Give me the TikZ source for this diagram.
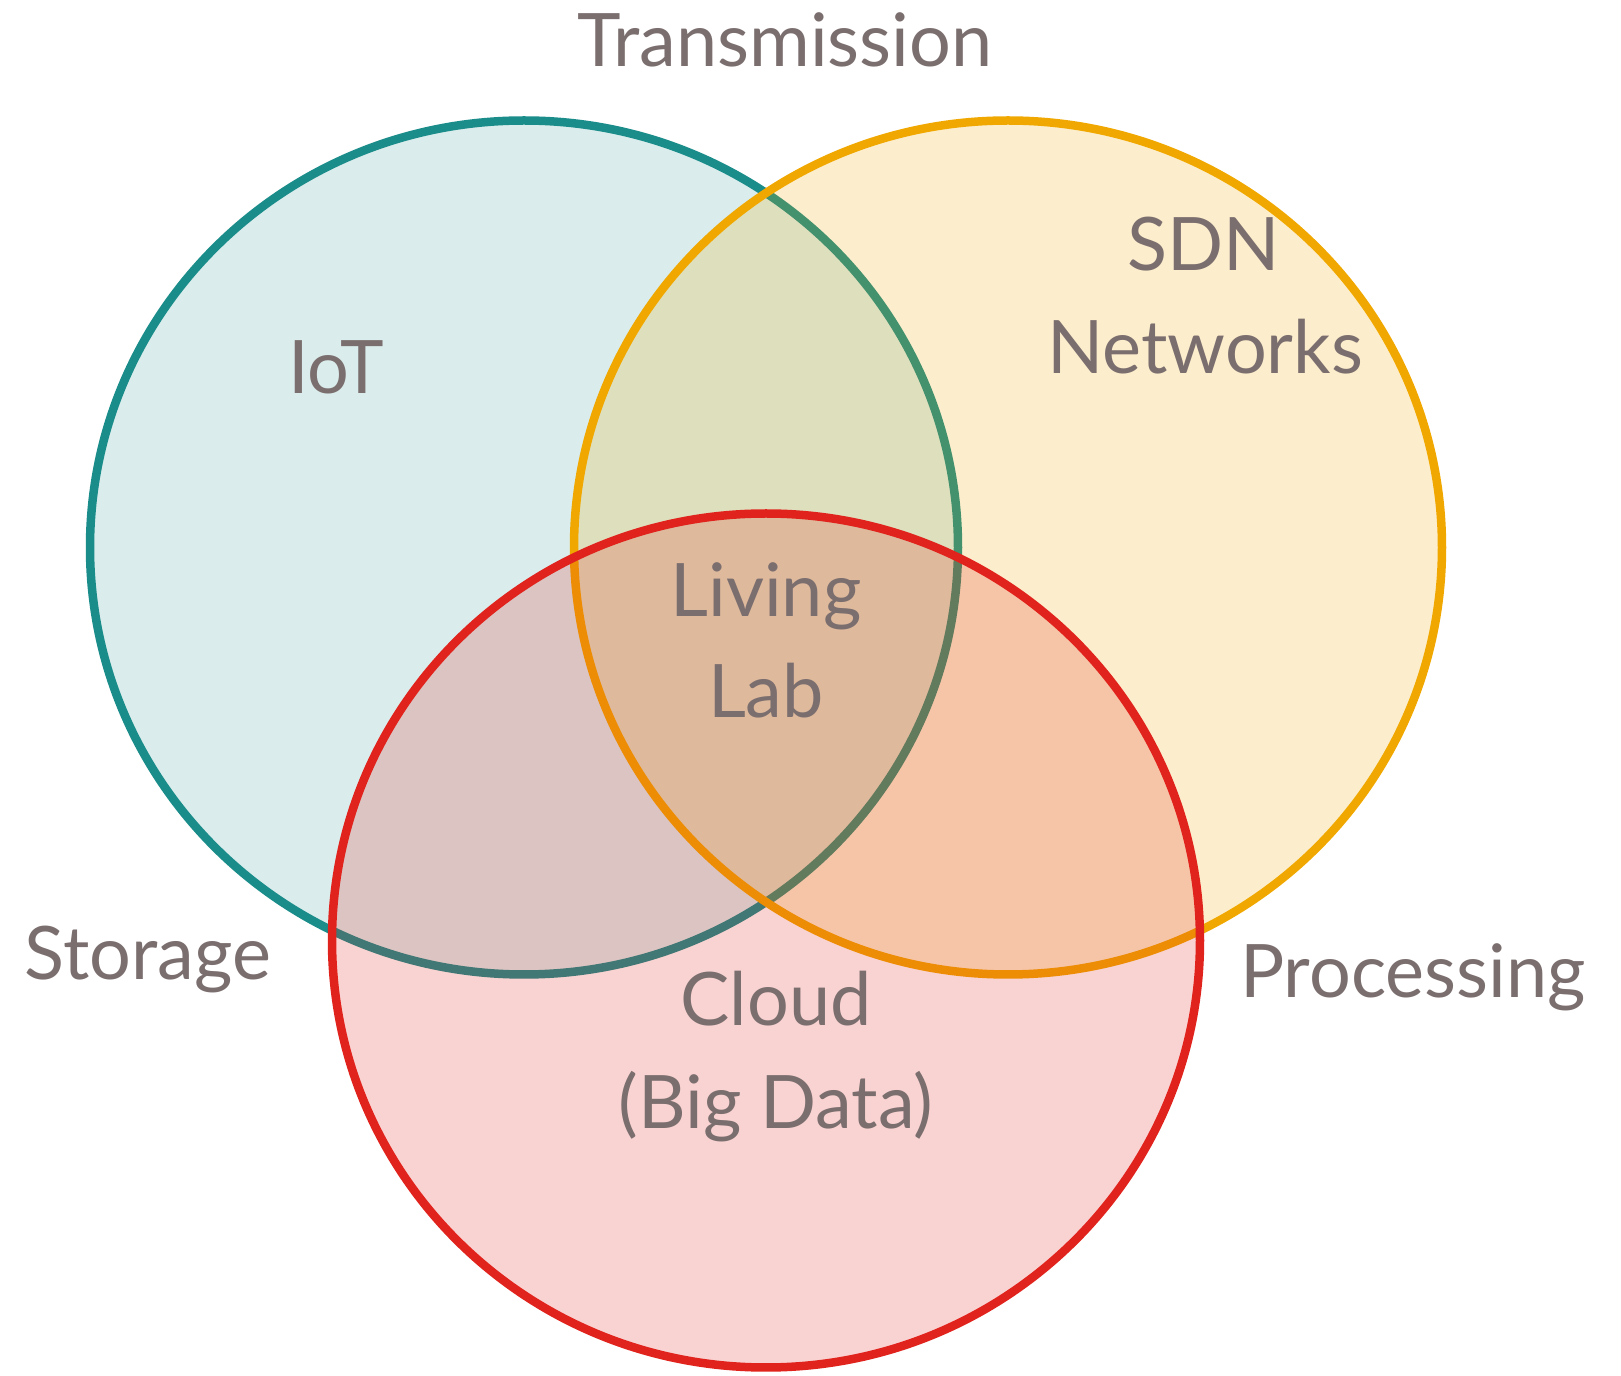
\documentclass[tikz,border=0pt]{standalone}
\usepackage{fontspec}
\setmainfont{Lato}
\usetikzlibrary{calc}
\definecolor{iotcol}{HTML}{1A8C8A}
\definecolor{sdncol}{HTML}{F0A800}
\definecolor{cloudcol}{HTML}{E0231C}
\definecolor{txtcol}{HTML}{7B6E6E}

\begin{document}
\begin{tikzpicture}[
  ring/.style={line width=0.085cm, fill opacity=#1},
  lbl/.style={anchor=base, text=txtcol, font=\fontsize{21}{25}\selectfont, inner sep=0pt}]
\useasboundingbox (0,0) rectangle (16.21,13.76);
% the three sets
\draw[ring=0.16, draw=iotcol, fill=iotcol] (5.24,8.285) ellipse (4.34 and 4.27);
\draw[ring=0.2, draw=sdncol, fill=sdncol] (10.08,8.285) ellipse (4.34 and 4.27);
\draw[ring=0.2, draw=cloudcol, fill=cloudcol] (7.66,4.355) ellipse (4.34 and 4.27);
\node[lbl] (trans) at (7.85,13.09) {Transmission};
\node[lbl] (iot) at (3.36,9.82) {IoT};
\node[lbl] (sdn) at (12.04,11.05) {SDN};
\node[lbl] (net) at (12.05,10.02) {Networks};
\node[lbl] (living) at (7.66,7.59) {Living};
\node[lbl] (lab) at (7.66,6.58) {Lab};
\node[lbl] (stor) at (1.48,3.96) {Storage};
\node[lbl] (proc) at (14.13,3.78) {Processing};
\node[lbl] (cloud) at (7.76,3.50) {Cloud};
\node[lbl] (big) at (7.76,2.47) {(Big Data)};
\end{tikzpicture}
\end{document}
